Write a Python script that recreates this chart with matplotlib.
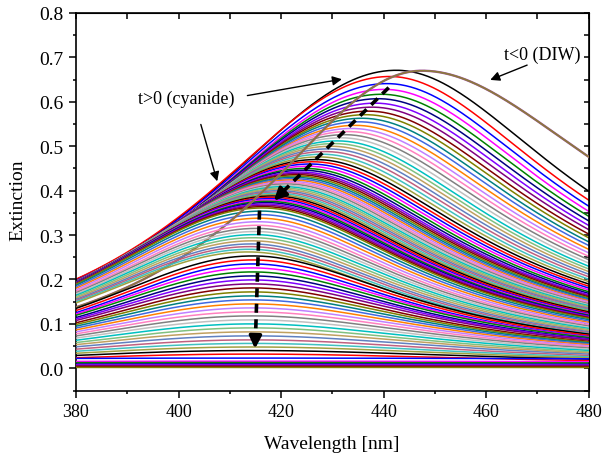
import numpy as np
import matplotlib.pyplot as plt
from matplotlib.ticker import MultipleLocator

plt.rcParams['font.family'] = ['Liberation Serif', 'DejaVu Serif']

# spectrum in deionised water (t<0)
diw_ext = 0.670
diw_nm = 447.5
diw_width_blue = 0.25   # eV, short-wavelength side
diw_width_red = 0.294   # eV, long-wavelength side

# spectra after cyanide addition (t>0), in time order
peak_ext = [
    0.671, 0.657, 0.641, 0.628, 0.617, 0.607, 0.597, 0.588, 0.579, 0.571,
    0.563, 0.555, 0.547, 0.540, 0.533, 0.526, 0.519, 0.512, 0.506, 0.500,
    0.494, 0.488, 0.482, 0.476, 0.470, 0.465, 0.460, 0.455, 0.450, 0.446,
    0.442, 0.439, 0.436, 0.433, 0.430, 0.427, 0.424, 0.421, 0.418, 0.415,
    0.412, 0.409, 0.406, 0.403, 0.400, 0.397, 0.394, 0.391, 0.388, 0.385,
    0.382, 0.379, 0.376, 0.373, 0.370, 0.367, 0.364, 0.361,
    0.354, 0.346, 0.338, 0.330, 0.322, 0.315, 0.308, 0.301, 0.294, 0.287,
    0.280, 0.274, 0.268, 0.262,
    0.253, 0.244, 0.235, 0.226, 0.217, 0.208, 0.199, 0.190, 0.181, 0.172,
    0.163, 0.154, 0.145, 0.136, 0.127, 0.118, 0.109, 0.100, 0.091, 0.082,
    0.073, 0.064, 0.056, 0.048, 0.040, 0.032,
    0.023, 0.016, 0.013, 0.010, 0.008, 0.006, 0.004, 0.002,
]
peak_nm = [
    442.5, 441.2, 440.7, 440.2, 439.6, 439.0, 438.4, 437.8, 437.1, 436.5,
    435.8, 435.2, 434.5, 433.8, 433.1, 432.4, 431.7, 431.0, 430.4, 429.8,
    429.2, 428.6, 428.0, 427.4, 426.8, 426.2, 425.7, 425.2, 424.7, 424.2,
    423.8, 423.5, 423.2, 422.9, 422.6, 422.3, 422.0, 421.7, 421.4, 421.1,
    420.8, 420.5, 420.2, 419.9, 419.6, 419.3, 419.0, 418.7, 418.4, 418.1,
    417.8, 417.6, 417.4, 417.2, 417.0, 416.8, 416.6, 416.4,
    416.2, 416.0, 415.8, 415.6, 415.4, 415.2, 415.0, 414.8, 414.6, 414.4,
    414.2, 414.0, 413.8, 413.6,
    414.5, 414.5, 414.5, 414.5, 414.5, 414.5, 414.5, 414.5, 414.5, 414.5,
    414.5, 414.5, 414.5, 414.5, 414.5, 414.5, 414.5, 414.5, 414.5, 414.5,
    414.5, 414.5, 414.5, 414.5, 414.5, 414.5,
    414.0, 414.0, 414.0, 414.0, 414.0, 414.0, 414.0, 414.0,
]
width_blue = [0.30] * 72 + [
    0.29, 0.29, 0.29, 0.295, 0.30, 0.30, 0.305, 0.31, 0.31, 0.315,
    0.32, 0.325, 0.33, 0.335, 0.34, 0.345, 0.35, 0.355, 0.36, 0.37,
    0.38, 0.39, 0.40, 0.42, 0.44, 0.46,
] + [1.5] * 8
width_red = [0.265] * 72 + [
    0.27, 0.27, 0.27, 0.275, 0.28, 0.28, 0.285, 0.29, 0.29, 0.295,
    0.30, 0.305, 0.31, 0.315, 0.32, 0.325, 0.33, 0.335, 0.34, 0.35,
    0.36, 0.37, 0.38, 0.40, 0.42, 0.44,
] + [1.5] * 8

colors = ['#000000', '#FF0000', '#0000FF', '#FF00FF', '#008000', '#000080',
          '#8000FF', '#800080', '#800000', '#808000', '#008080', '#4169E1',
          '#FF8000', '#C080FF', '#FF80C0', '#808080', '#C0C0C0', '#00C0C0',
          '#80C080', '#C0A060', '#6080C0', '#C06080', '#40C0C0', '#A0A040']

wl = np.linspace(380, 480, 301)


def band(a, nm0, g_blue, g_red):
    # plasmon band, lorentzian in photon energy with two half widths
    e = 1239.84 / wl
    e0 = 1239.84 / nm0
    g = np.where(e > e0, g_blue, g_red)
    return a / (1 + ((e - e0) / g) ** 2)


fig = plt.figure(figsize=(6.05, 4.6), dpi=100)
ax = fig.add_axes([0.1256, 0.1489, 0.8474, 0.8207])

for i in range(len(peak_ext)):
    ax.plot(wl, band(peak_ext[i], peak_nm[i], width_blue[i], width_red[i]),
            color=colors[i % len(colors)], lw=1.1, zorder=2 + i * 0.01)

# DIW spectrum sits above the early spectra, below the later ones
diw = band(diw_ext, diw_nm, diw_width_blue, diw_width_red)
ax.plot(wl, diw, color='#A050A0', lw=1.7, zorder=2.6)
ax.plot(wl, diw, color='#8B7B3A', lw=1.2, zorder=2.605)

# dashed arrows following the peak
ax.plot([441.0, 419.6], [0.632, 0.389], color='k', lw=2.6,
        linestyle=(0, (2.5, 1.8)), zorder=7)
ax.annotate('', xy=(418.2, 0.373), xytext=(420.4, 0.398),
            arrowprops=dict(arrowstyle='-|>', color='k', lw=2.6,
                            mutation_scale=18), zorder=7)
ax.plot([415.8, 415.0], [0.355, 0.065], color='k', lw=2.6,
        linestyle=(0, (2.5, 1.8)), zorder=7)
ax.annotate('', xy=(414.9, 0.038), xytext=(415.0, 0.075),
            arrowprops=dict(arrowstyle='-|>', color='k', lw=2.6,
                            mutation_scale=18), zorder=7)

ax.text(401.6, 0.607, 't>0 (cyanide)', fontsize=13, ha='center', va='center')
ax.annotate('', xy=(432.4, 0.652), xytext=(412.9, 0.613),
            arrowprops=dict(arrowstyle='-|>', color='k', lw=1.0,
                            mutation_scale=14), zorder=8)
ax.annotate('', xy=(407.7, 0.415), xytext=(404.2, 0.555),
            arrowprops=dict(arrowstyle='-|>', color='k', lw=1.0,
                            mutation_scale=14), zorder=8)
ax.text(470.9, 0.708, 't<0 (DIW)', fontsize=13, ha='center', va='center')
ax.annotate('', xy=(460.3, 0.647), xytext=(468.5, 0.685),
            arrowprops=dict(arrowstyle='-|>', color='k', lw=1.0,
                            mutation_scale=14), zorder=8)

ax.set_xlim(380, 480)
ax.set_ylim(-0.05, 0.8)
ax.set_xticks(np.arange(380, 481, 20))
ax.set_yticks(np.arange(0, 0.81, 0.1))
ax.xaxis.set_minor_locator(MultipleLocator(10))
ax.yaxis.set_minor_locator(MultipleLocator(0.05))
ax.tick_params(which='both', direction='out', width=1.1)
ax.tick_params(axis='x', labelsize=13)
ax.tick_params(axis='y', labelsize=14)
ax.tick_params(which='major', length=5, pad=4)
ax.tick_params(which='minor', length=2.5)
for s in ax.spines.values():
    s.set_linewidth(1.2)

top = ax.secondary_xaxis('top')
top.xaxis.set_major_locator(MultipleLocator(20))
top.xaxis.set_minor_locator(MultipleLocator(10))
top.tick_params(which='both', direction='in', labeltop=False, length=4, width=1.1)
right = ax.secondary_yaxis('right')
right.yaxis.set_major_locator(MultipleLocator(0.1))
right.yaxis.set_minor_locator(MultipleLocator(0.05))
right.tick_params(which='both', direction='in', labelright=False, length=3.5, width=1.1)

fig.text(332 / 605, 1 - 445 / 460, 'Wavelength [nm]', fontsize=14,
         ha='center', va='center')
fig.text(17.5 / 605, 1 - 200 / 460, 'Extinction', fontsize=14, rotation=90,
         ha='center', va='center')

fig.savefig('out.png', dpi=100)
